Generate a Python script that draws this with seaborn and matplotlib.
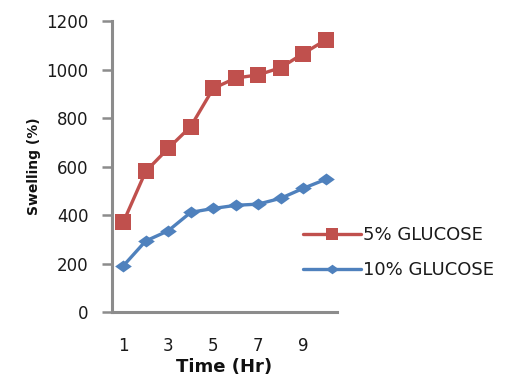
import matplotlib
matplotlib.use("Agg")
import matplotlib.pyplot as plt
import seaborn as sns
import pandas as pd

time_hr = [1, 2, 3, 4, 5, 6, 7, 8, 9, 10]
glucose_5 = [370, 580, 675, 765, 922, 965, 978, 1008, 1066, 1122]
glucose_10 = [190, 293, 335, 411, 427, 440, 445, 469, 510, 547]
series_names = ["5% GLUCOSE", "10% GLUCOSE"]
x_tick_labels = ["1", "3", "5", "7", "9"]
y_ticks = [0, 200, 400, 600, 800, 1000, 1200]

sns.set_theme(style="white")
plt.rcParams["font.family"] = ["DejaVu Sans"]

df = pd.DataFrame({
    "Time": time_hr * 2,
    "Swelling": glucose_5 + glucose_10,
    "Series": [series_names[0]] * len(time_hr) + [series_names[1]] * len(time_hr),
})

fig = plt.figure(figsize=(5.17, 3.76), dpi=100)
ax = fig.add_axes([0.2166, 0.1702, 0.4352, 0.7738])

diamond = [(-1, 0), (0, 0.72), (1, 0), (0, -0.72), (-1, 0)]
colors = {series_names[0]: "#C0504D", series_names[1]: "#4F81BD"}

sns.lineplot(data=df[df.Series == series_names[0]], x="Time", y="Swelling",
             color=colors[series_names[0]], marker="s", markersize=11.5,
             markeredgewidth=0, linewidth=2.4, ax=ax, label=series_names[0])
sns.lineplot(data=df[df.Series == series_names[1]], x="Time", y="Swelling",
             color=colors[series_names[1]], marker=diamond, markersize=12,
             markeredgewidth=0, linewidth=2.4, ax=ax, label=series_names[1])

ax.set_xlim(0.5, 10.5)
ax.set_ylim(0, 1200)
ax.set_xticks([1, 3, 5, 7, 9])
ax.set_xticklabels(x_tick_labels)
ax.set_yticks(y_ticks)

for s in ["top", "right"]:
    ax.spines[s].set_visible(False)
for s in ["left", "bottom"]:
    ax.spines[s].set_color("#8c8c8c")
    ax.spines[s].set_linewidth(2.2)

ax.tick_params(axis="y", which="both", left=True, length=7, width=1.8,
               color="#8c8c8c", labelsize=12, pad=10, labelcolor="#1a1a1a")
ax.tick_params(axis="x", which="both", bottom=False, length=0,
               labelsize=12, pad=18, labelcolor="#1a1a1a")

ax.set_xlabel("Time (Hr)", fontsize=13, fontweight="bold", labelpad=2, color="#111111")
ax.set_ylabel("Swelling (%)", fontsize=10, fontweight="bold", labelpad=4, color="#111111")

leg = ax.legend(loc="center left", bbox_to_anchor=(0.586, 0.328), bbox_transform=fig.transFigure,
                frameon=False, fontsize=13, handlelength=3.2, labelspacing=0.95,
                handletextpad=0.15, borderaxespad=0, borderpad=0, markerscale=0.8)
for t in leg.get_texts():
    t.set_color("#1a1a1a")

fig.savefig("out.png", dpi=100)
